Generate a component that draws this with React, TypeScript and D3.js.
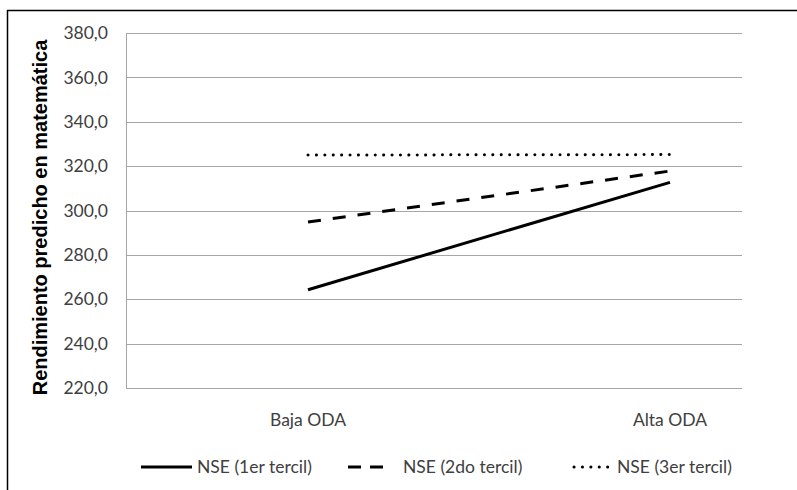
import React from "react";
import * as d3 from "d3";

const categories = ["Baja ODA", "Alta ODA"];
const seriesNames = ["NSE (1er tercil)", "NSE (2do tercil)", "NSE (3er tercil)"];
const serie1 = [264.3, 312.7];
const serie2 = [294.8, 317.8];
const serie3 = [325.0, 325.2];
const yTicks = [220, 240, 260, 280, 300, 320, 340, 360, 380];
const yAxisTitle = "Rendimiento predicho en matemática";

const W = 797;
const H = 490;
const plot = { left: 126, right: 742, top: 33, bottom: 388 };
const font = "Lato, 'Open Sans', sans-serif";
const titleFont = "'Liberation Sans', Arial, sans-serif";
const fs = 17.5;
const legendY = 467;

const dashStyles = [
  { dash: "none", cap: "butt" },
  { dash: "13,12", cap: "butt" },
  { dash: "0.1,8.3", cap: "round" },
];

export default function App() {
  const x = d3.scalePoint<string>().domain(categories).range([308, 670]).padding(0);
  const y = d3.scaleLinear().domain([220, 380]).range([plot.bottom, plot.top]);
  const all = [serie1, serie2, serie3];
  const line = d3
    .line<number>()
    .x((_, i) => x(categories[i]) as number)
    .y((d) => y(d));
  const fmt = (v: number) => v.toFixed(1).replace(".", ",");

  const legendItems = [
    { x1: 141, x2: 192, tx: 197 },
    { x1: 348, x2: 384, tx: 403 },
    { x1: 574, x2: 613, tx: 617 },
  ];

  return (
    <svg
      width={W}
      height={H}
      style={{ position: "absolute", left: 0, top: 0, background: "#fff" }}
    >
      <rect x={0} y={0} width={W} height={H} fill="#fff" />
      {/* outer border (top and left) */}
      <line x1={7} y1={10.5} x2={W} y2={10.5} stroke="#000" strokeWidth={1.5} />
      <line x1={7.5} y1={10} x2={7.5} y2={H} stroke="#000" strokeWidth={1.5} />

      {/* gridlines */}
      {yTicks.map((t) => (
        <line
          key={t}
          x1={plot.left}
          x2={plot.right}
          y1={Math.round(y(t)) + 0.5}
          y2={Math.round(y(t)) + 0.5}
          stroke="#a6a6a6"
          strokeWidth={1}
        />
      ))}
      <line
        x1={plot.left + 0.5}
        x2={plot.left + 0.5}
        y1={plot.top}
        y2={plot.bottom + 0.5}
        stroke="#a6a6a6"
        strokeWidth={1}
      />

      {/* tick labels */}
      {yTicks.map((t) => (
        <text
          key={t}
          x={108}
          y={y(t)}
          dy="0.35em"
          textAnchor="end"
          fontFamily={font}
          fontSize={fs}
          fill="#404040"
        >
          {fmt(t)}
        </text>
      ))}

      {/* axis title */}
      <text
        transform={`translate(40, ${(38 + 397) / 2}) rotate(-90)`}
        dy="0.35em"
        textAnchor="middle"
        fontFamily={titleFont}
        fontSize={20}
        fontWeight="bold"
        fill="#000"
      >
        {yAxisTitle}
      </text>

      {/* category labels */}
      {categories.map((c) => (
        <text
          key={c}
          x={x(c)}
          y={420}
          dy="0.35em"
          textAnchor="middle"
          fontFamily={font}
          fontSize={fs}
          fill="#404040"
        >
          {c}
        </text>
      ))}

      {/* series */}
      {all.map((s, i) => (
        <path
          key={i}
          d={line(s) || ""}
          fill="none"
          stroke="#000"
          strokeWidth={3}
          strokeDasharray={dashStyles[i].dash}
          strokeLinecap={dashStyles[i].cap as any}
        />
      ))}

      {/* legend */}
      {legendItems.map((l, i) => (
        <g key={i}>
          <line
            x1={l.x1}
            x2={l.x2}
            y1={legendY}
            y2={legendY}
            stroke="#000"
            strokeWidth={3}
            strokeDasharray={i === 1 ? "13,9" : dashStyles[i].dash}
            strokeLinecap={dashStyles[i].cap as any}
          />
          <text
            x={l.tx}
            y={legendY}
            dy="0.35em"
            fontFamily={font}
            fontSize={fs}
            fill="#404040"
          >
            {seriesNames[i]}
          </text>
        </g>
      ))}
    </svg>
  );
}
